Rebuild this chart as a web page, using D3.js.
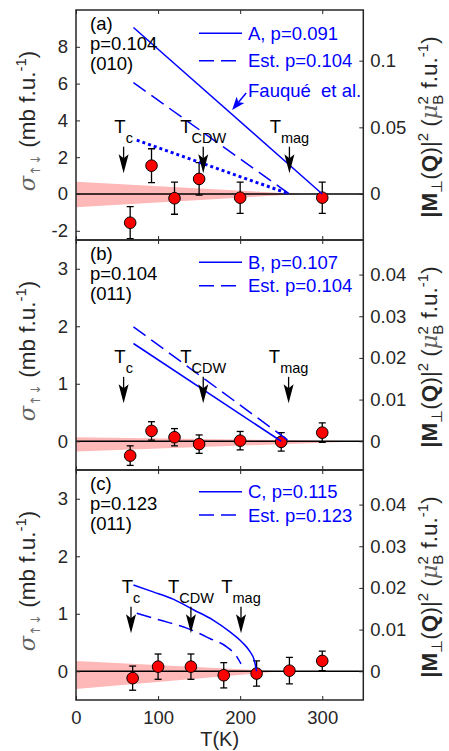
<!DOCTYPE html>
<html><head><meta charset="utf-8">
<script src="https://cdn.jsdelivr.net/npm/d3@7"></script>
<style>
body{margin:0;background:#fff;}
text{font-family:"Liberation Sans", Arial, Helvetica, sans-serif;}
</style></head><body>
<svg id="chart" width="449" height="751"></svg>
<script>
// ---------------- data ----------------
const panelTags = ["(a)", "(b)", "(c)"];
const panelDopings = ["p=0.104", "p=0.104", "p=0.123"];
const panelPlanes = ["(010)", "(011)", "(011)"];
const legendSolid = ["A, p=0.091", "B, p=0.107", "C, p=0.115"];
const legendDashed = ["Est. p=0.104", "Est. p=0.104", "Est. p=0.123"];
const transitionNames = ["c", "CDW", "mag"];
const fauqueLabel = "Fauqué  et al.";

const xTicks = [0, 100, 200, 300];
const leftTicksA = [-2, 0, 2, 4, 6, 8];
const leftTicksBC = [0, 1, 2, 3];
const rightTicksA = [0, 0.05, 0.1];
const rightTicksBC = [0, 0.01, 0.02, 0.03, 0.04];

// measured spin-flip cross sections
const tempA = [66, 92, 120, 150, 200, 300];
const sigmaA = [-1.56, 1.54, -0.23, 0.82, -0.2, -0.2];
const errA = [0.87, 0.92, 0.87, 0.88, 0.85, 0.85];

const tempB = [66, 92, 120, 150, 200, 250, 300];
const sigmaB = [-0.25, 0.18, 0.07, -0.05, 0.01, -0.01, 0.15];
const errB = [0.17, 0.16, 0.15, 0.16, 0.16, 0.16, 0.17];

const tempC = [69, 100, 140, 180, 220, 260, 300];
const sigmaC = [-0.12, 0.08, 0.08, -0.07, -0.04, 0.01, 0.18];
const errC = [0.21, 0.22, 0.22, 0.22, 0.22, 0.23, 0.17];

// model curves [T, sigma]
const solidA = [[70, 9.05], [300, 0]];
const dashedA = [[70, 6.05], [260, 0]];
const dottedA = [[74, 2.93], [260, 0]];
const solidB = [[70, 1.70], [250, 0]];
const dashedB = [[70, 1.99], [260, 0]];
const solidC = [[70,1.50],[94,1.38],[119,1.25],[143,1.07],[167,0.89],[188,0.68],[202,0.51],[212,0.34],[217,0.20],[220,0]];
const dashedC = [[74,1.01],[102,0.89],[135,0.75],[163,0.57],[184,0.42],[196,0.25],[201,0.13]];

// background uncertainty wedge: [upper sigma at T=0, lower sigma at T=0, T where it closes]
const bandA = [0.67, -0.72, 275];
const bandB = [0.07, -0.18, 350];
const bandC = [0.18, -0.31, 250];

// transition temperatures [Tc, TCDW, Tmag]
const transA = [58, 155, 260];
const transB = [58, 155, 259];
const transC = [67, 140, 201];

// conversion sigma -> |M(Q)|^2
const momentPerSigma = 0.0138;

// ---------------- layout ----------------
const W = 449, H = 751;
const plotLeft = 76, plotRight = 363.3, panelH = 230;
const INK = "#262626", BLUE = "#0000ff", FONT = 18.5, LABEL = 22.5, DASH = "15,7";

const panels = [
  {top: 10,  yDomain: [-2.5, 10], leftTicks: leftTicksA,  rightTicks: rightTicksA,  temp: tempA, sigma: sigmaA, err: errA,
   solid: solidA, dashed: dashedA, dotted: dottedA, band: bandA, trans: transA, arrowSpan: [2.57, 1.13], legendY: [23.3, 50.7], curved: false},
  {top: 240, yDomain: [-0.5, 3.5], leftTicks: leftTicksBC, rightTicks: rightTicksBC, temp: tempB, sigma: sigmaB, err: errB,
   solid: solidB, dashed: dashedB, dotted: null, band: bandB, trans: transB, arrowSpan: [1.12, 0.66], legendY: [22.3, 45.7], curved: false},
  {top: 470, yDomain: [-0.5, 3.5], leftTicks: leftTicksBC, rightTicks: rightTicksBC, temp: tempC, sigma: sigmaC, err: errC,
   solid: solidC, dashed: dashedC, dotted: null, band: bandC, trans: transC, arrowSpan: [1.12, 0.66], legendY: [21.7, 45.0], curved: true}
];

const svg = d3.select("#chart");
svg.append("rect").attr("width", W).attr("height", H).attr("fill", "#fff");
const defs = svg.append("defs");

const x = d3.scaleLinear().domain([0, 350]).range([plotLeft, plotRight]);

function arrow(g, x1, y1, x2, y2, headLen, halfW, notch, color, sw) {
  const dx = x2 - x1, dy = y2 - y1, L = Math.hypot(dx, dy);
  const ux = dx / L, uy = dy / L, px = -uy, py = ux;
  const bx = x2 - ux * headLen, by = y2 - uy * headLen;
  const nx = x2 - ux * (headLen - notch), ny = y2 - uy * (headLen - notch);
  g.append("line").attr("x1", x1).attr("y1", y1).attr("x2", nx).attr("y2", ny)
    .attr("stroke", color).attr("stroke-width", sw);
  g.append("path")
    .attr("d", `M${x2},${y2}L${bx + px * halfW},${by + py * halfW}L${nx},${ny}L${bx - px * halfW},${by - py * halfW}Z`)
    .attr("fill", color);
}

function styleAxis(sel) {
  sel.select(".domain").remove();
  sel.attr("font-size", FONT).attr("font-family", '"Liberation Sans", Arial, sans-serif')
     .style("color", INK);
  sel.selectAll(".tick line").attr("stroke-width", 1);
}

panels.forEach((p, i) => {
  const g = svg.append("g");
  const bottom = p.top + panelH;
  const y = d3.scaleLinear().domain(p.yDomain).range([bottom, p.top]);
  const yR = d3.scaleLinear().domain(p.yDomain.map(v => v * momentPerSigma)).range([bottom, p.top]);

  const clipId = "clip" + i;
  defs.append("clipPath").attr("id", clipId).append("rect")
    .attr("x", plotLeft).attr("y", p.top).attr("width", plotRight - plotLeft).attr("height", panelH);
  const plot = g.append("g").attr("clip-path", `url(#${clipId})`);

  // uncertainty wedge
  const [bt, bb, bEnd] = p.band;
  plot.append("path")
    .attr("d", d3.line()([[x(0), y(bt)], [x(bEnd), y(0)], [x(0), y(bb)]]) + "Z")
    .attr("fill", "#ffb8b8");

  // zero line
  plot.append("line").attr("x1", plotLeft).attr("x2", plotRight)
    .attr("y1", y(0)).attr("y2", y(0)).attr("stroke", "#000").attr("stroke-width", 1.5);

  // error bars + markers
  const pts = p.temp.map((t, k) => ({t, v: p.sigma[k], e: p.err[k]}));
  const eb = plot.append("g").attr("stroke", "#000").attr("stroke-width", 1.3);
  pts.forEach(d => {
    eb.append("line").attr("x1", x(d.t)).attr("x2", x(d.t)).attr("y1", y(d.v - d.e)).attr("y2", y(d.v + d.e));
    eb.append("line").attr("x1", x(d.t) - 3.5).attr("x2", x(d.t) + 3.5).attr("y1", y(d.v - d.e)).attr("y2", y(d.v - d.e));
    eb.append("line").attr("x1", x(d.t) - 3.5).attr("x2", x(d.t) + 3.5).attr("y1", y(d.v + d.e)).attr("y2", y(d.v + d.e));
  });
  plot.selectAll("circle.pt").data(pts).join("circle").attr("class", "pt")
    .attr("cx", d => x(d.t)).attr("cy", d => y(d.v)).attr("r", 5.8)
    .attr("fill", "#ff0000").attr("stroke", "#000").attr("stroke-width", 1);

  // model curves
  const line = d3.line().x(d => x(d[0])).y(d => y(d[1]))
    .curve(p.curved ? d3.curveMonotoneX : d3.curveLinear);
  plot.append("path").attr("d", line(p.solid)).attr("fill", "none").attr("stroke", BLUE).attr("stroke-width", 1.5);
  plot.append("path").attr("d", line(p.dashed)).attr("fill", "none").attr("stroke", BLUE).attr("stroke-width", 1.5)
    .attr("stroke-dasharray", DASH);
  if (p.dotted) {
    plot.append("path").attr("d", line(p.dotted)).attr("fill", "none").attr("stroke", BLUE).attr("stroke-width", 3)
      .attr("stroke-dasharray", "3,3");
  }

  // transition arrows + labels
  p.trans.forEach((t, k) => {
    const ax = x(t), yTail = y(p.arrowSpan[0]), yTip = y(p.arrowSpan[1]);
    arrow(g, ax, yTail, ax, yTip, 19, 5, 4, "#000", 1.3);
    const txt = g.append("text").attr("x", ax).attr("y", yTail - 14)
      .attr("text-anchor", "middle").attr("font-size", FONT).attr("fill", "#000");
    txt.append("tspan").text("T");
    txt.append("tspan").attr("dy", 10).attr("font-size", 14.5).text(transitionNames[k]);
  });

  // panel captions
  [panelTags[i], panelDopings[i], panelPlanes[i]].forEach((s, k) => {
    g.append("text").attr("x", 90).attr("y", p.top + 20 + 20 * k)
      .attr("font-size", FONT).attr("fill", "#000").text(s);
  });

  // legend
  [legendSolid[i], legendDashed[i]].forEach((s, k) => {
    const ly = p.top + p.legendY[k];
    g.append("line").attr("x1", 199).attr("x2", 242).attr("y1", ly).attr("y2", ly)
      .attr("stroke", BLUE).attr("stroke-width", 1.5).attr("stroke-dasharray", k ? DASH : null);
    g.append("text").attr("x", 248).attr("y", ly + 6.5).attr("font-size", FONT).attr("fill", BLUE).text(s);
  });

  if (i === 0) {
    g.append("text").attr("x", x(209.6)).attr("y", y(5.65) + 6.5).attr("font-size", FONT)
      .attr("fill", BLUE).style("white-space", "pre").text(fauqueLabel);
    arrow(g, x(207.3), y(5.49), x(190.2), y(4.57), 13, 5, 3, BLUE, 1.5);
  }

  // axes
  g.append("g").attr("transform", `translate(${plotLeft},0)`)
    .call(d3.axisLeft(y).tickValues(p.leftTicks).tickSizeInner(-4).tickSizeOuter(0).tickPadding(8).tickFormat(d => String(d)))
    .call(styleAxis);
  g.append("g").attr("transform", `translate(${plotRight},0)`)
    .call(d3.axisRight(yR).tickValues(p.rightTicks).tickSizeInner(-4).tickSizeOuter(0).tickPadding(7).tickFormat(d => String(d)))
    .call(styleAxis);
  g.append("g").attr("transform", `translate(0,${p.top})`)
    .call(d3.axisTop(x).tickValues(xTicks).tickSizeInner(-4).tickSizeOuter(0).tickFormat(""))
    .call(styleAxis);
  g.append("g").attr("transform", `translate(0,${bottom})`)
    .call(d3.axisBottom(x).tickValues(xTicks).tickSizeInner(-4).tickSizeOuter(0).tickPadding(11)
      .tickFormat(i === panels.length - 1 ? (d => String(d)) : ""))
    .call(styleAxis);

  // frame
  g.append("rect").attr("x", plotLeft).attr("y", p.top).attr("width", plotRight - plotLeft).attr("height", panelH)
    .attr("fill", "none").attr("stroke", INK).attr("stroke-width", 1.5);

  // y labels
  const cy = p.top + panelH / 2;
  const yl = g.append("text").attr("transform", `translate(35,${cy - 4}) rotate(-90)`)
    .attr("text-anchor", "middle").attr("font-size", LABEL).attr("fill", INK);
  yl.append("tspan").attr("font-family", "DejaVu Serif").attr("font-style", "italic").attr("fill", "#606060").text("σ");
  yl.append("tspan").attr("font-family", "DejaVu Sans").attr("font-size", 13).attr("dy", 5).attr("fill", "#707070").text("↑↓");
  yl.append("tspan").attr("dy", -5).style("white-space", "pre").text(" (mb f.u.");
  yl.append("tspan").attr("font-size", 15).attr("dy", -9).text("-1");
  yl.append("tspan").attr("dy", 9).text(")");

  const yr = g.append("text").attr("transform", `translate(437,${cy + 2}) rotate(-90)`)
    .attr("text-anchor", "middle").attr("font-size", LABEL).attr("fill", INK);
  yr.append("tspan").attr("font-weight", "bold").text("|M");
  yr.append("tspan").attr("font-size", 15).attr("dy", 5).text("⊥");
  yr.append("tspan").attr("dy", -5).text("(");
  yr.append("tspan").attr("font-weight", "bold").text("Q");
  yr.append("tspan").text(")|");
  yr.append("tspan").attr("font-size", 15).attr("dy", -9).text("2");
  yr.append("tspan").attr("dy", 9).style("white-space", "pre").text(" (");
  yr.append("tspan").attr("font-family", "DejaVu Serif").attr("font-style", "italic").attr("fill", "#606060").text("μ");
  yr.append("tspan").attr("font-size", 15).attr("dy", -9).text("2");
  yr.append("tspan").attr("font-size", 15).attr("dx", -8.5).attr("dy", 15).text("B");
  yr.append("tspan").attr("dy", -6).style("white-space", "pre").text(" f.u.");
  yr.append("tspan").attr("font-size", 15).attr("dy", -9).text("-1");
  yr.append("tspan").attr("dy", 9).text(")");
});

// x label
svg.append("text").attr("x", (plotLeft + plotRight) / 2).attr("y", 746).attr("text-anchor", "middle")
  .attr("font-size", 20).attr("fill", INK).text("T(K)");
</script>
</body></html>
